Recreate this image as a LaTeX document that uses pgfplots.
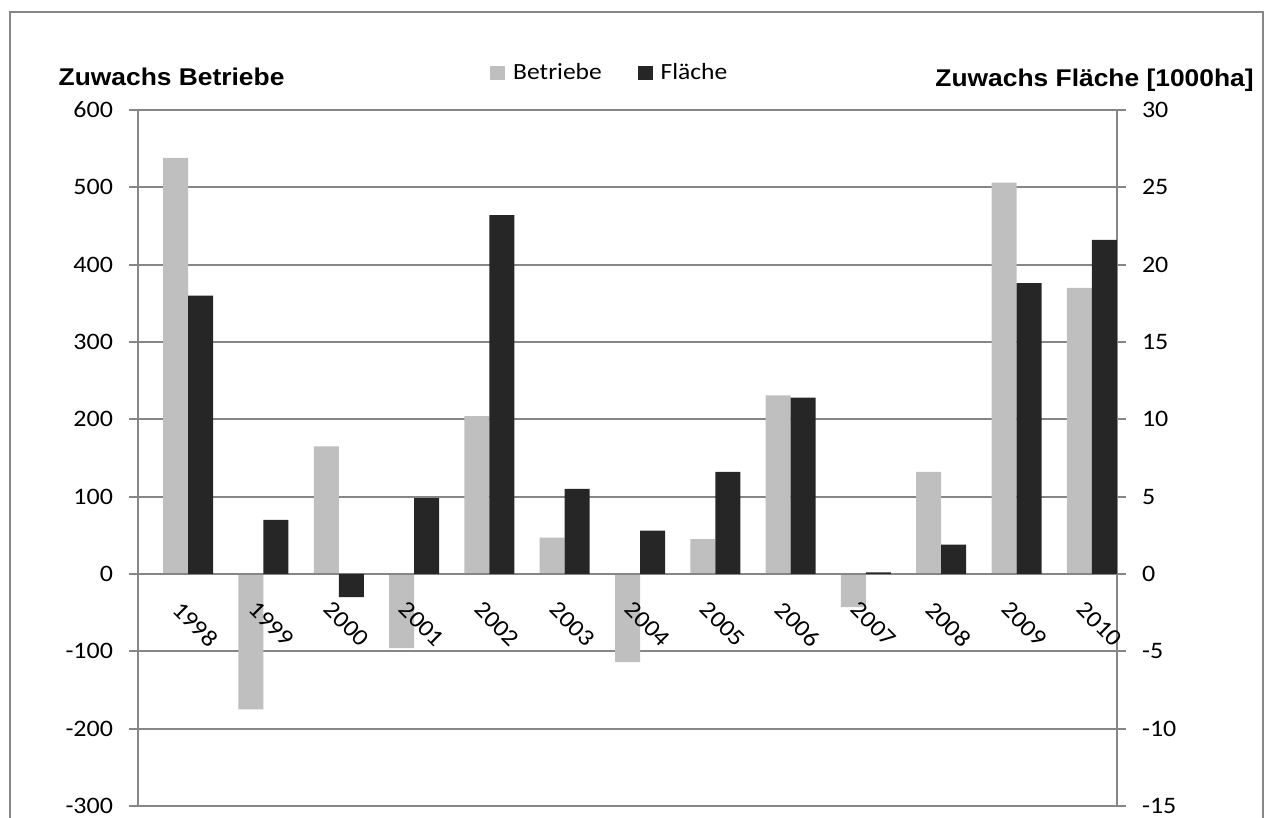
\documentclass[border=0pt]{standalone}
\usepackage{fontspec}
\setmainfont{Carlito}[FakeStretch=1.1]
\newfontfamily\titlefont{Liberation Sans}[FakeStretch=1.09]
\usepackage{pgfplots}
\usepackage{pgfplotstable}
\pgfplotsset{compat=1.18}

\definecolor{lightbar}{HTML}{BFBFBF}
\definecolor{darkbar}{HTML}{262626}
\definecolor{gridgray}{HTML}{868686}

% Zuwachs je Jahr: Betriebe (linke Achse), Flaeche in 1000 ha (rechte Achse)
\pgfplotstableread{
idx year betriebe flaeche
0  1998  538  18.0
1  1999 -175   3.5
2  2000  165  -1.5
3  2001  -96   4.9
4  2002  204  23.2
5  2003   47   5.5
6  2004 -114   2.8
7  2005   45   6.6
8  2006  231  11.4
9  2007  -43   0.1
10 2008  132   1.9
11 2009  506  18.8
12 2010  370  21.6
}\datatable

\begin{document}
\begin{tikzpicture}
\pgfplotsset{
  every axis/.append style={
    scale only axis, width=489.5pt, height=348pt,
    xmin=-0.5, xmax=12.5,
    tick label style={font=\fontsize{11.8}{13}\selectfont},
    /pgf/number format/assume math mode=true,
    axis line style={gridgray, line width=0.9pt},
    tick align=outside, major tick length=4.5pt,
    ytick style={gridgray, line width=0.9pt},
  }
}
% left axis: Betriebe, grid
\begin{axis}[name=main,
  ymin=-300, ymax=600, ytick distance=100,
  axis y line*=left, axis x line=none,
  ymajorgrids, grid style={gridgray, line width=0.9pt},
  yticklabel style={xshift=-4.5pt},
]
\addplot[ybar, bar width=12.5pt, bar shift=0pt, fill=lightbar, draw=none]
  table[x=idx, y=betriebe] {\datatable};
\end{axis}

% right axis: Flaeche, x labels on the zero line, legend
\begin{axis}[
  ymin=-15, ymax=30, ytick distance=5,
  axis y line*=right, axis x line*=middle,
  hide obscured x ticks=false,
  xtick={0,...,12},
  xticklabels={1998,1999,2000,2001,2002,2003,2004,2005,2006,2007,2008,2009,2010},
  xtick style={draw=none},
  xticklabel style={xshift=3.5pt, yshift=-3.5pt, rotate=-45, anchor=north west},
  yticklabel style={xshift=4.5pt},
  legend style={draw=none, fill=none, at={(0.483,1.053)}, anchor=center,
    legend columns=2, font=\fontsize{11.6}{13}\selectfont,
    /tikz/every odd column/.append style={column sep=2pt},
    /tikz/every even column/.append style={column sep=16pt}},
]
\addlegendimage{fill=lightbar, draw=none,
  legend image code/.code={\fill[lightbar] (0pt,-3.7pt) rectangle (7.4pt,3.7pt);}}
\addplot[ybar, bar width=12.5pt, bar shift=12.5pt, fill=darkbar, draw=none,
  legend image code/.code={\fill[darkbar] (0pt,-3.7pt) rectangle (7.4pt,3.7pt);}]
  table[x=idx, y=flaeche] {\datatable};
\legend{Betriebe, Fläche}
\end{axis}

\node[anchor=base west, inner sep=0pt, font=\titlefont\bfseries\fontsize{12.1}{14}\selectfont]
  at ([shift={(-39.85pt,12pt)}]main.north west) {Zuwachs Betriebe};
\node[anchor=base east, inner sep=0pt, font=\titlefont\bfseries\fontsize{12.1}{14}\selectfont]
  at ([shift={(68.5pt,11.5pt)}]main.north east) {Zuwachs Fläche [1000ha]};

\pgfresetboundingbox
\path[use as bounding box] ([shift={(-69pt,-6pt)}]main.south west)
  rectangle ([shift={(75.5pt,55pt)}]main.north east);
\draw[gridgray, line width=0.9pt]
  ([shift={(-64pt,-20pt)}]main.south west) -- ([shift={(-64pt,48.85pt)}]main.north west)
  -- ([shift={(73.15pt,48.85pt)}]main.north east) -- ([shift={(73.15pt,-20pt)}]main.south east);
\end{tikzpicture}
\end{document}
